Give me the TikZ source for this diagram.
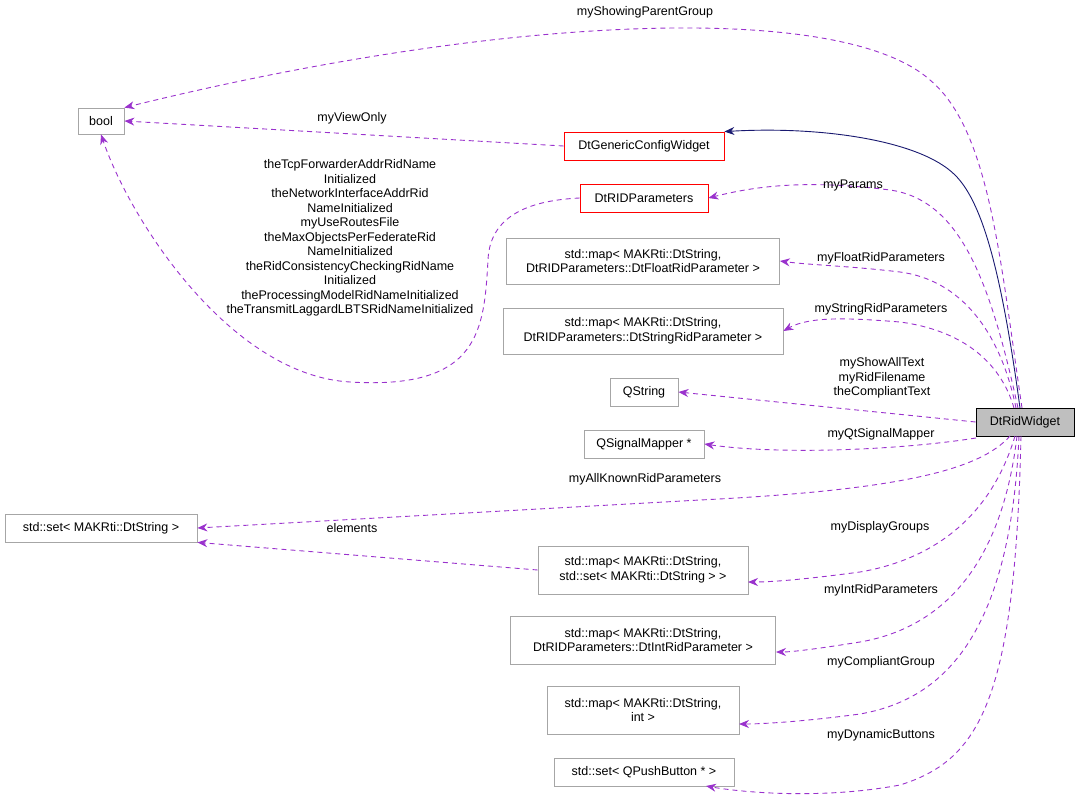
\documentclass[tikz,border=0pt]{standalone}
\usepackage{fontspec}
\setmainfont{Liberation Sans}
\usetikzlibrary{arrows.meta}
\definecolor{orch}{HTML}{9A32CD}
\definecolor{navyc}{HTML}{191970}
\begin{document}
\begin{tikzpicture}[x=1pt,y=-1pt,
 box/.style={draw=black!35,line width=0.8pt,fill=white,inner sep=2pt,align=center,font=\fontsize{12.5}{14.5}\selectfont},
 red/.style={box,draw=red},
 rel/.style={draw=orch,line width=0.9pt,dash pattern=on 5pt off 4pt,-{Stealth[length=10pt,width=8pt,fill=orch]}},
 inh/.style={draw=navyc,line width=0.9pt,-{Stealth[length=10pt,width=8pt,fill=navyc]}},
 lab/.style={font=\fontsize{12.5}{14.5}\selectfont,inner sep=1pt,align=center}]
\useasboundingbox (0,0) rectangle (1080,800);
\node[box,minimum width=46pt,minimum height=26pt] (bool) at (101,121) {bool};
\node[red,minimum width=160pt,minimum height=28pt] (gen) at (644,146) {DtGenericConfigWidget};
\node[red,minimum width=128pt,minimum height=28pt] (par) at (644,198) {DtRIDParameters};
\node[box,minimum width=273pt,minimum height=46pt] (mf) at (643,261) {std::map< MAKRti::DtString,\\ DtRIDParameters::DtFloatRidParameter >};
\node[box,minimum width=280pt,minimum height=46pt] (ms) at (643,331) {std::map< MAKRti::DtString,\\ DtRIDParameters::DtStringRidParameter >};
\node[box,minimum width=68pt,minimum height=28pt] (qs) at (644,392) {QString};
\node[box,minimum width=120pt,minimum height=28pt] (qm) at (644,444) {QSignalMapper *};
\node[box,minimum width=192pt,minimum height=28pt] (set) at (101,528) {std::set< MAKRti::DtString >};
\node[box,minimum width=210pt,minimum height=48pt] (mset) at (643,570) {std::map< MAKRti::DtString,\\ std::set< MAKRti::DtString > >};
\node[box,minimum width=265pt,minimum height=48pt] (mi) at (643,640) {std::map< MAKRti::DtString,\\ DtRIDParameters::DtIntRidParameter >};
\node[box,minimum width=192pt,minimum height=48pt] (mint) at (643,710) {std::map< MAKRti::DtString,\\ int >};
\node[box,minimum width=180pt,minimum height=28pt] (pb) at (644,772) {std::set< QPushButton * >};
\node[box,draw=black,fill=black!25,minimum width=98pt,minimum height=28pt] (w) at (1025,422) {DtRidWidget};

\draw[inh] (1020,408) .. controls (1000,260) and (980,200) .. (955,175) .. controls (920,140) and (820,126) .. (gen.north east);
\draw[rel] (1022,408) .. controls (1000,260) and (990,130) .. (930,80) .. controls (840,0) and (500,15) .. (bool.north east);
\node[lab] at (645,12) {myShowingParentGroup};
\draw[rel] (gen.west) -- (bool.east);
\node[lab] at (352,118) {myViewOnly};
\draw[rel] (1018,408) .. controls (990,280) and (960,200) .. (890,190) .. controls (810,180) and (760,185) .. (par.east);
\node[lab] at (853,185) {myParams};
\draw[rel] (par.west) .. controls (540,200) and (490,210) .. (488,260) .. controls (484,330) and (480,390) .. (350,382) .. controls (230,375) and (130,220) .. (bool.south);
\node[lab] at (350,238) {theTcpForwarderAddrRidName\\Initialized\\theNetworkInterfaceAddrRid\\NameInitialized\\myUseRoutesFile\\theMaxObjectsPerFederateRid\\NameInitialized\\theRidConsistencyCheckingRidName\\Initialized\\theProcessingModelRidNameInitialized\\theTransmitLaggardLBTSRidNameInitialized};
\draw[rel] (1016,408) .. controls (1000,330) and (960,280) .. (900,272) .. controls (850,266) and (810,265) .. (mf.east);
\node[lab] at (881,258) {myFloatRidParameters};
\draw[rel] (1014,408) .. controls (1000,360) and (960,330) .. (900,322) .. controls (850,318) and (810,316) .. (ms.east);
\node[lab] at (881,309) {myStringRidParameters};
\draw[rel] (w.west) -- (qs.east);
\node[lab] at (882,378) {myShowAllText\\myRidFilename\\theCompliantText};
\draw[rel] (976,438) .. controls (900,450) and (780,455) .. (qm.east);
\node[lab] at (881,434) {myQtSignalMapper};
\draw[rel] (1010,436) .. controls (980,470) and (900,490) .. (700,500) -- (set.east);
\node[lab] at (645,479) {myAllKnownRidParameters};
\draw[rel] (mset.west) -- (set.south east);
\node[lab] at (352,528) {elements};
\draw[rel] (1015,436) .. controls (990,520) and (930,560) .. (860,572) .. controls (800,580) and (770,582) .. (748,582);
\node[lab] at (880,527) {myDisplayGroups};
\draw[rel] (1017,436) .. controls (1000,580) and (930,630) .. (860,642) .. controls (810,650) and (790,652) .. (776,652);
\node[lab] at (881,590) {myIntRidParameters};
\draw[rel] (1019,436) .. controls (1010,640) and (940,700) .. (860,714) .. controls (800,722) and (760,724) .. (739,724);
\node[lab] at (881,662) {myCompliantGroup};
\draw[rel] (1021,436) .. controls (1015,700) and (980,760) .. (900,785) .. controls (820,800) and (740,792) .. (706,786);
\node[lab] at (881,735) {myDynamicButtons};
\end{tikzpicture}
\end{document}
